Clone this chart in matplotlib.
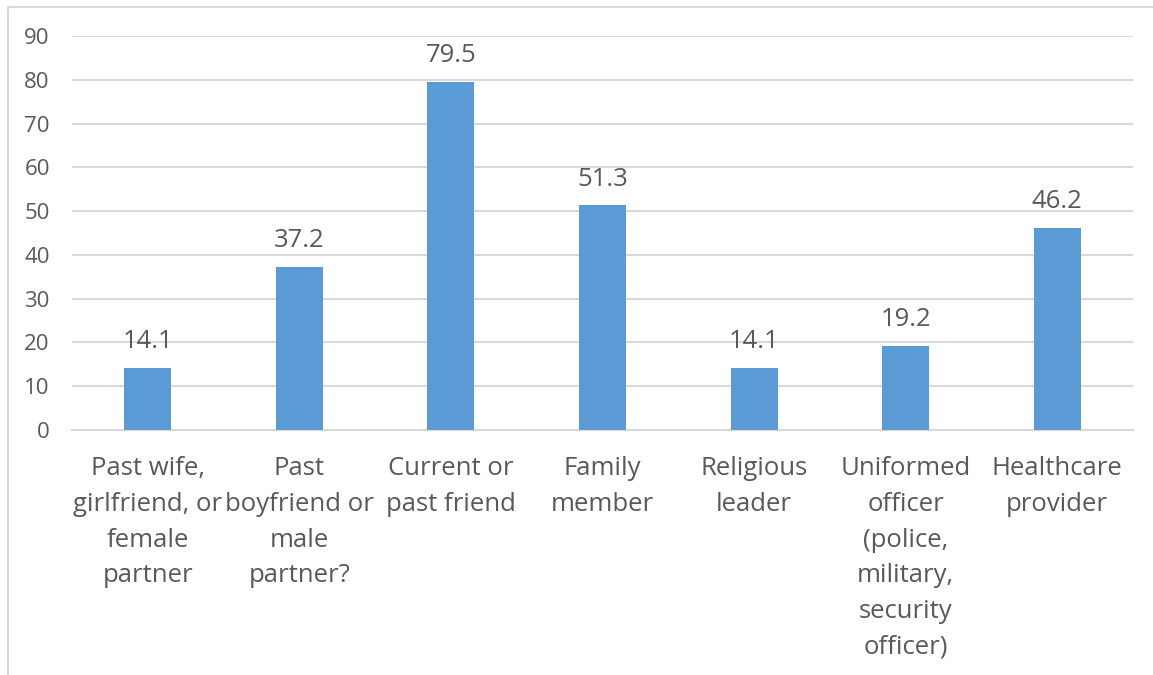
import matplotlib
matplotlib.use("Agg")
import matplotlib.pyplot as plt
from matplotlib.lines import Line2D

categories = [
    "Past wife,\ngirlfriend, or\nfemale\npartner",
    "Past\nboyfriend or\nmale\npartner?",
    "Current or\npast friend",
    "Family\nmember",
    "Religious\nleader",
    "Uniformed\nofficer\n(police,\nmilitary,\nsecurity\nofficer)",
    "Healthcare\nprovider",
]
values = [14.1, 37.2, 79.5, 51.3, 14.1, 19.2, 46.2]
yticks = [0, 10, 20, 30, 40, 50, 60, 70, 80, 90]

W, H = 1153, 675
fig = plt.figure(figsize=(W / 100, H / 100), dpi=100)
plt.rcParams["font.family"] = ["Open Sans", "DejaVu Sans"]
text_color = "#595959"
grid_color = "#D9D9D9"
bar_color = "#5B9BD5"

ax = fig.add_axes([72 / W, 1 - 430 / H, (1133 - 72) / W, (430 - 36) / H])
x = list(range(len(categories)))
ax.bar(x, values, width=0.31, color=bar_color, zorder=3)
ax.set_xlim(-0.5, len(categories) - 0.5)
ax.set_ylim(0, 90)
ax.set_yticks(yticks)
ax.set_yticklabels([str(v) for v in yticks], fontsize=16, color=text_color)
ax.yaxis.grid(True, color=grid_color, linewidth=1.5, zorder=0)
ax.set_xticks(x)
ax.set_xticklabels(categories, fontsize=18.5, color=text_color, linespacing=1.56)
ax.tick_params(axis="y", length=0, pad=16)
ax.tick_params(axis="x", length=0, pad=19)
for s in ["top", "right", "left"]:
    ax.spines[s].set_visible(False)
ax.spines["bottom"].set_color(grid_color)
ax.spines["bottom"].set_linewidth(1.5)

for xi, v in zip(x, values):
    ax.annotate(f"{v}", (xi, v), xytext=(0, 10), textcoords="offset points",
                ha="center", va="bottom", fontsize=18.5, color=text_color)

# chart frame (top and left edges)
fig.add_artist(Line2D([7.5 / W, 7.5 / W], [0, 1 - 6.5 / H], transform=fig.transFigure,
                      color=grid_color, linewidth=1.5))
fig.add_artist(Line2D([7.5 / W, 1], [1 - 6.5 / H, 1 - 6.5 / H], transform=fig.transFigure,
                      color=grid_color, linewidth=1.5))

fig.savefig("out.png", dpi=100, facecolor="white")
